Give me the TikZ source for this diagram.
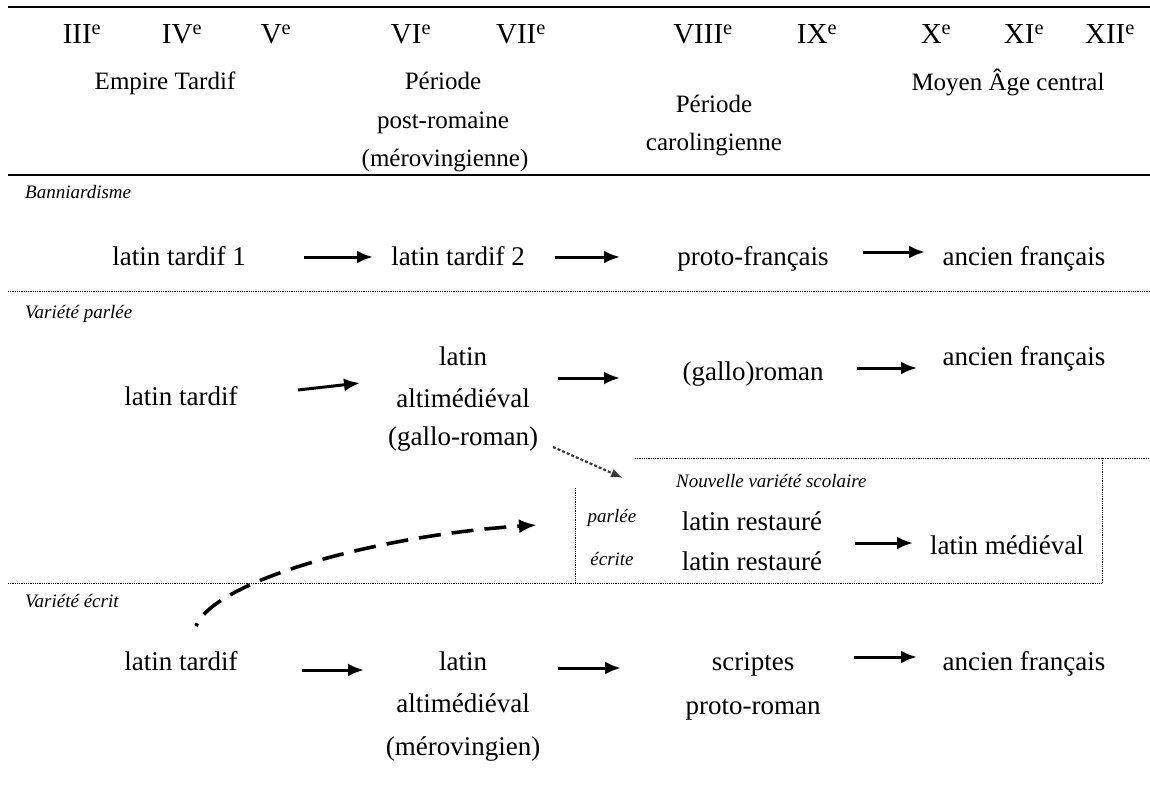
\documentclass[tikz,border=0pt]{standalone}
\usepackage{fontspec}
\setmainfont{Liberation Serif}
\usetikzlibrary{arrows.meta}

\begin{document}
\begin{tikzpicture}[x=1pt, y=-1pt,
    txt/.style={anchor=base, inner sep=0pt, font=\fontsize{27}{32}\selectfont},
    hdr/.style={anchor=base, inner sep=0pt, font=\fontsize{25}{30}\selectfont},
    cent/.style={anchor=base, inner sep=0pt, font=\fontsize{29}{34}\selectfont},
    lbl/.style={anchor=base west, inner sep=0pt, font=\fontsize{19}{22}\selectfont\itshape},
    sml/.style={anchor=base, inner sep=0pt, font=\fontsize{19}{22}\selectfont\itshape},
    arw/.style={-{Latex[length=16pt,width=13pt]}, line width=3pt},
    rule/.style={line width=2pt},
    sep/.style={densely dotted, line width=0.8pt}
  ]
  \useasboundingbox (0,0) rectangle (1150,800);

  % siècles
  \foreach \c/\x in {III/82, IV/182, V/276, VI/411, VII/521, VIII/703, IX/817, X/936, XI/1024, XII/1110}
    \node[cent] (c\c) at (\x,44) {\c\textsuperscript{e}};

  % périodes
  \node[hdr] (empTard) at (165,89) {Empire Tardif};
  \node[hdr] (perPR1) at (443,89) {Période};
  \node[hdr] (perPR2) at (443,128) {post-romaine};
  \node[hdr] (perPR3) at (445,166) {(mérovingienne)};
  \node[hdr] (perCar1) at (714,112) {Période};
  \node[hdr] (perCar2) at (714,150) {carolingienne};
  \node[hdr] (moyAge) at (1008,90) {Moyen Âge central};

  % filets
  \draw[rule] (8,7) -- (1150,7);
  \draw[rule] (8,175) -- (1150,175);
  \draw[sep] (8,291) -- (1150,291);
  \draw[sep] (635,458) -- (1150,458);
  \draw[sep] (8,583) -- (1102,583);
  \draw[sep] (575,488) -- (575,583);
  \draw[sep] (1102,458) -- (1102,583);

  % Banniardisme
  \node[lbl] (banLbl) at (25,198) {Banniardisme};
  \node[txt] (lt1) at (179,265) {latin tardif 1};
  \node[txt] (lt2) at (458,265) {latin tardif 2};
  \node[txt] (pf) at (753,265) {proto-français};
  \node[txt] (af1) at (1024,265) {ancien français};

  \draw[arw] ([shift={(125,-8)}]lt1.base) -- ([shift={(-85,-8)}]lt2.base);
  \draw[arw] ([shift={(97,-8)}]lt2.base) -- ([shift={(-133,-8)}]pf.base);
  \draw[arw] ([shift={(110,-13)}]pf.base) -- ([shift={(-99,-13)}]af1.base);

  % variété parlée
  \node[lbl] (parLbl) at (25,318) {Variété parlée};
  \node[txt] (vpLT) at (181,405) {latin tardif};
  \node[txt] (vpLat) at (463,365) {latin};
  \node[txt] (vpAlt) at (463,407) {altimédiéval};
  \node[txt] (vpGR) at (463,445) {(gallo-roman)};
  \node[txt] (vpGRo) at (753,380) {(gallo)roman};
  \node[txt] (vpAF) at (1024,365) {ancien français};

  \draw[arw] ([shift={(117,-15)}]vpLT.base) -- ([shift={(-103,-24)}]vpAlt.base);
  \draw[arw] ([shift={(95,-29)}]vpAlt.base) -- ([shift={(-133,-2)}]vpGRo.base);
  \draw[arw] ([shift={(104,-12)}]vpGRo.base) -- ([shift={(-107,3)}]vpAF.base);

  % nouvelle variété scolaire
  \node[lbl] (nouv) at (676,487) {Nouvelle variété scolaire};
  \node[sml] (parlee) at (612,522) {parlée};
  \node[sml] (ecrite) at (612,565) {écrite};
  \node[txt] (lr1) at (752,530) {latin restauré};
  \node[txt] (lr2) at (752,570) {latin restauré};
  \node[txt] (lm) at (1007,554) {latin médiéval};

  \draw[arw] ([shift={(103,-27)}]lr2.base) -- ([shift={(-94,-11)}]lm.base);
  \draw[-{Latex[length=12pt,width=9pt]}, gray!45!black, densely dashed, line width=2.2pt]
    ([shift={(90,2)}]vpGR.base) -- ([shift={(-53,-9)}]nouv.base west);

  % variété écrite
  \node[lbl] (ecLbl) at (25,607) {Variété écrit};
  \node[txt] (ecLT) at (181,670) {latin tardif};
  \node[txt] (ecLat) at (463,670) {latin};
  \node[txt] (ecAlt) at (463,712) {altimédiéval};
  \node[txt] (ecMer) at (463,755) {(mérovingien)};
  \node[txt] (scr) at (753,670) {scriptes};
  \node[txt] (pr) at (753,714) {proto-roman};
  \node[txt] (ecAF) at (1024,670) {ancien français};

  \draw[arw] ([shift={(121,0)}]ecLT.base) -- ([shift={(-99,0)}]ecLat.base);
  \draw[arw] ([shift={(95,-2)}]ecLat.base) -- ([shift={(-132,-2)}]scr.base);
  \draw[arw] ([shift={(101,-13)}]scr.base) -- ([shift={(-107,-13)}]ecAF.base);

  \draw[-{Latex[length=18pt,width=14pt]}, line width=3.6pt, dash pattern=on 22pt off 11pt, dash phase=19pt]
    ([shift={(15,-44)}]ecLT.base) .. controls +(19,-46) and +(-157,10) .. ([shift={(-75,3)}]parlee.base);
\end{tikzpicture}
\end{document}
